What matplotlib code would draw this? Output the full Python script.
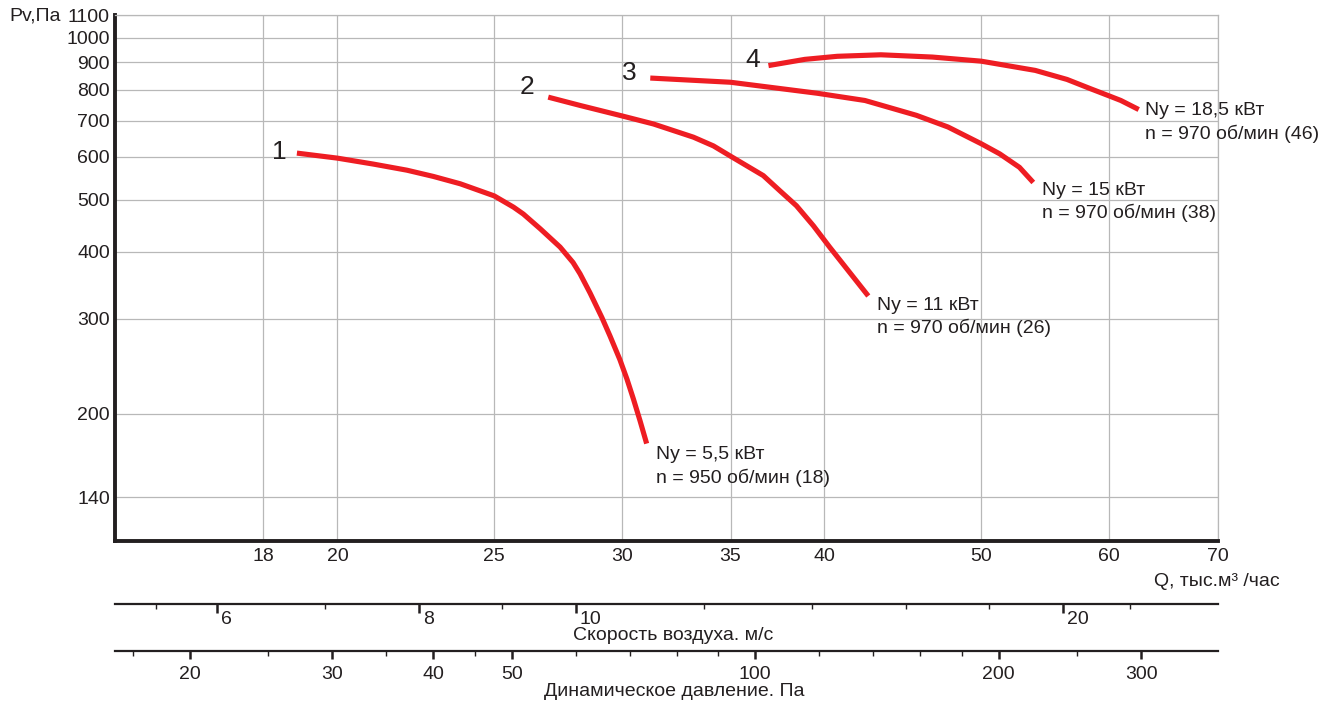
import matplotlib.pyplot as plt
import matplotlib.transforms as mtransforms
from matplotlib.ticker import FixedLocator, NullFormatter

plt.rcParams["font.family"] = ["Liberation Sans", "DejaVu Sans"]

# fan curves: Q in thousand m3/h, Pv in Pa
q1 = [18.88, 20.0, 21.05, 22.08, 22.93, 23.82, 25.0, 25.7, 26.06, 26.7,
      27.46, 27.97, 28.25, 28.66, 29.14, 29.48, 29.9, 30.2, 30.48, 30.77, 31.06]
p1 = [610, 597, 582, 567, 552, 535, 508, 484, 470, 441,
      408, 382, 364, 335, 302, 279, 252, 232, 213, 194, 176]

q2 = [27.0, 28.25, 30.0, 31.36, 33.2, 34.16, 35.0, 36.67, 37.55, 38.44,
      39.38, 40.3, 42.58]
p2 = [775, 748, 715, 691, 653, 629, 602, 554, 519, 487,
      447, 408, 331]

q3 = [31.22, 35.0, 39.6, 42.38, 45.6, 47.7, 50.0, 51.34, 52.8, 53.85]
p3 = [841, 826, 788, 764, 717, 682, 635, 608, 574, 538]

q4 = [36.94, 38.9, 40.74, 43.35, 46.65, 50.0, 54.0, 56.5, 58.45, 60.0, 61.0, 62.57]
p4 = [887, 911, 923, 929, 920, 904, 869, 836, 803, 779, 764, 735]

curve_numbers = ["1", "2", "3", "4"]
power_labels = ["Ny = 5,5 кВт", "Ny = 11 кВт", "Ny = 15 кВт", "Ny = 18,5 кВт"]
speed_labels = ["n = 950 об/мин (18)", "n = 970 об/мин (26)",
                "n = 970 об/мин (38)", "n = 970 об/мин (46)"]

q_ticks = [18, 20, 25, 30, 35, 40, 50, 60, 70]
pv_ticks = [140, 200, 300, 400, 500, 600, 700, 800, 900, 1000, 1100]

v_major = [6, 8, 10, 20]
v_minor = [5.5, 7, 9, 12, 14, 16, 18, 22]
pd_major = [20, 30, 40, 50, 100, 200, 300]
pd_minor = [17, 25, 35, 45, 60, 70, 80, 90, 120, 140, 160, 180, 250]

duct_area = 0.78   # m2
air_density = 1.2  # kg/m3

q_lim = (14.58, 70)
pv_lim = (116, 1100)

RED = "#ee1d23"
GRID = "#b8b8b8"
INK = "#231f20"
FS = 14


def velocity(q):
    return q * 1000 / 3600 / duct_area


def dyn_pressure(q):
    return air_density * velocity(q) ** 2 / 2


fig = plt.figure(figsize=(13.24, 7.02), dpi=100)
ax = fig.add_axes([0.0871, 0.2293, 0.8325, 0.7489])
ax.set_xscale("log")
ax.set_yscale("log")
ax.set_xlim(*q_lim)
ax.set_ylim(*pv_lim)

ax.xaxis.set_major_locator(FixedLocator(q_ticks))
ax.xaxis.set_minor_locator(FixedLocator([]))
ax.xaxis.set_major_formatter(plt.FuncFormatter(lambda v, p: f"{v:g}"))
ax.xaxis.set_minor_formatter(NullFormatter())
ax.yaxis.set_major_locator(FixedLocator(pv_ticks))
ax.yaxis.set_minor_locator(FixedLocator([]))
ax.yaxis.set_major_formatter(plt.FuncFormatter(lambda v, p: f"{v:g}"))
ax.yaxis.set_minor_formatter(NullFormatter())
ax.tick_params(axis="x", length=0, pad=5, labelsize=FS, colors=INK)
ax.tick_params(axis="y", length=0, pad=4, labelsize=FS, colors=INK)

ax.grid(True, which="major", color=GRID, lw=0.9)
for side in ["left", "bottom"]:
    ax.spines[side].set_linewidth(2.8)
    ax.spines[side].set_color(INK)
for side in ["top", "right"]:
    ax.spines[side].set_linewidth(0.9)
    ax.spines[side].set_color(GRID)

# label offsets (points) for curve numbers and motor notes
num_offsets = [(-12.5, 0.7), (-15.5, 7.6), (-15, 3.8), (-11.5, 4.3)]
note_offsets = [(7, -8), (6.5, -6.7), (6.6, -5.5), (4.5, -0.8)]
line_gap = 16.5

curves = [(q1, p1), (q2, p2), (q3, p3), (q4, p4)]
for i, (q, p) in enumerate(curves):
    ax.plot(q, p, color=RED, lw=3.7, solid_joinstyle="round",
            solid_capstyle="butt")
    ax.annotate(curve_numbers[i], xy=(q[0], p[0]), xytext=num_offsets[i],
                textcoords="offset points", ha="center", va="center",
                fontsize=19, color=INK)
    dx, dy = note_offsets[i]
    ax.annotate(power_labels[i], xy=(q[-1], p[-1]), xytext=(dx, dy),
                textcoords="offset points", ha="left", va="center",
                fontsize=FS, color=INK)
    ax.annotate(speed_labels[i], xy=(q[-1], p[-1]),
                xytext=(dx, dy - line_gap),
                textcoords="offset points", ha="left", va="center",
                fontsize=FS, color=INK)

fig.text(9 / 1324, 1 - 16 / 702, "Pv,Па", ha="left", va="center",
         fontsize=FS, color=INK)
fig.text(1280 / 1324, 1 - 582 / 702, "Q, тыс.м³ /час", ha="right",
         va="center", fontsize=FS, color=INK)


def scale_axis(ypos, lim, major, minor, tick_len, lab_pad, align):
    sax = fig.add_axes([0.0871, ypos, 0.8325, 0.001])
    sax.patch.set_visible(False)
    sax.set_xscale("log")
    sax.set_xlim(*lim)
    sax.yaxis.set_visible(False)
    for side in ["top", "left", "right"]:
        sax.spines[side].set_visible(False)
    sax.spines["bottom"].set_linewidth(1.6)
    sax.spines["bottom"].set_color(INK)
    sax.xaxis.set_major_locator(FixedLocator(major))
    sax.xaxis.set_minor_locator(FixedLocator(minor))
    sax.xaxis.set_major_formatter(plt.FuncFormatter(lambda v, p: f"{v:g}"))
    sax.xaxis.set_minor_formatter(NullFormatter())
    sax.tick_params(axis="x", which="major", direction="out",
                    length=tick_len, width=1.8, color=INK, pad=lab_pad,
                    labelsize=FS, labelcolor=INK)
    sax.tick_params(axis="x", which="minor", direction="out",
                    length=3.6, width=1.0, color=INK)
    if align == "left":
        shift = mtransforms.ScaledTranslation(3 / 72, 0, fig.dpi_scale_trans)
        for lbl in sax.get_xticklabels():
            lbl.set_horizontalalignment("left")
            lbl.set_transform(lbl.get_transform() + shift)
    return sax


scale_axis(1 - 604 / 702, (velocity(q_lim[0]), velocity(q_lim[1])),
           v_major, v_minor, 6.2, -1.5, "left")
scale_axis(1 - 651 / 702, (dyn_pressure(q_lim[0]), dyn_pressure(q_lim[1])),
           pd_major, pd_minor, 5.8, 5.0, "center")

fig.text(673 / 1324, 1 - 635 / 702, "Скорость воздуха. м/с", ha="center",
         va="center", fontsize=FS, color=INK)
fig.text(674 / 1324, 1 - 691 / 702, "Динамическое давление. Па",
         ha="center", va="center", fontsize=FS, color=INK)

fig.savefig("out.png", dpi=100)
